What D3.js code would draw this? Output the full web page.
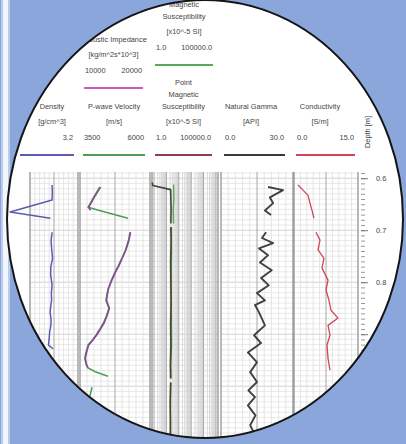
<!DOCTYPE html>
<html>
<head>
<meta charset="utf-8">
<script src="https://cdn.jsdelivr.net/npm/d3@7"></script>
<style>
  body { margin: 0; background: #8aa6da; }
  svg { display: block; }
  text { font-family: "Liberation Sans", Arial, sans-serif; }
</style>
</head>
<body>
<div id="viz"></div>
<script>
// [depth (m), value]; null marks a core section break
var depthTicks = [0.6, 0.7, 0.8, 0.9, 1.0, 1.1];

var density = [[0.613,2.12],[0.628,2.13],[0.642,2.12],[0.665,0.37],[0.677,2.05],[0.69,null],
  [0.704,2.12],[0.72,2.08],[0.735,2.10],[0.754,2.14],[0.77,2.07],[0.785,2.06],[0.806,2.12],
  [0.82,2.09],[0.835,2.10],[0.848,2.06],[0.858,2.04],[0.872,2.08],[0.883,2.07],[0.895,2.02],
  [0.908,2.00],[0.921,1.97],[0.928,2.16]];

var velocity = [[0.617,4180],[0.636,3950],[0.656,3730],[0.664,4300],[0.677,5240],[0.69,null],
  [0.704,5320],[0.72,5260],[0.738,5150],[0.754,5010],[0.768,4880],[0.781,4750],[0.798,4600],
  [0.815,4480],[0.835,4410],[0.850,4520],[0.864,4430],[0.877,4330],[0.890,4180],[0.902,4030],
  [0.912,3880],[0.921,3730],[0.935,3650],[0.946,3610],[0.957,3650],[0.965,3730],[0.972,4000],
  [0.981,4480],[0.99,null],[1.002,3880],[1.019,3800]];

var impedance = [[0.617,12800],[0.636,11900],[0.656,11000],[0.662,11300],[0.69,null],
  [0.704,17350],[0.72,17100],[0.738,16650],[0.754,16100],[0.768,15600],[0.781,15050],
  [0.798,14450],[0.815,13950],[0.835,13700],[0.850,14150],[0.864,13800],[0.877,13400],
  [0.890,12800],[0.902,12200],[0.912,11600],[0.921,11000],[0.935,10700],[0.946,10500],
  [0.957,10650],[0.965,10900]];

var volumeMag = [[0.612,38],[0.64,40],[0.66,36],[0.687,38],[0.69,null],[0.694,25],[0.74,26],
  [0.8,24],[0.86,25],[0.92,26],[0.96,23],[0.985,24],[0.989,null],[0.993,23],[1.05,22],[1.12,23]];

var pointMag = [[0.608,0.7],[0.614,0.8],[0.622,22],[0.64,23],[0.66,24],[0.687,23],[0.69,null],
  [0.694,23],[0.72,24],[0.76,22],[0.8,23],[0.84,24],[0.88,22],[0.92,23],[0.96,21],[0.985,22],
  [0.989,null],[0.993,22],[1.03,20],[1.07,21],[1.12,20]];

var gamma = [[0.617,19.9],[0.623,26.5],[0.637,20.7],[0.648,22.1],[0.662,18.5],[0.671,21.2],[0.685,null],
  [0.704,19.0],[0.715,17.2],[0.725,22.1],[0.735,15.9],[0.748,19.9],[0.762,16.3],[0.777,21.5],
  [0.792,16.8],[0.806,20.2],[0.821,15.0],[0.835,18.5],[0.844,14.1],[0.858,15.9],[0.883,18.5],
  [0.902,13.7],[0.917,16.8],[0.935,11.0],[0.954,15.0],[0.973,12.0],[0.992,15.0],[1.008,11.2],
  [1.021,14.1],[1.037,11.0],[1.056,14.3],[1.075,12.0],[1.094,14.1],[1.11,12.5]];

var conductivity = [[0.613,0.26],[0.623,1.58],[0.633,2.9],[0.648,3.42],[0.662,3.95],[0.677,4.47],[0.69,null],
  [0.704,5.0],[0.719,6.05],[0.738,5.53],[0.754,7.1],[0.773,6.58],[0.796,8.16],[0.815,7.63],
  [0.835,8.42],[0.854,8.95],[0.869,10.8],[0.883,8.16],[0.902,8.68],[0.921,7.9],[0.946,8.16],[0.969,8.68]];

// header labels
var curveTitles = {
  density: ["Density"], velocity: ["P-wave Velocity"], impedance: ["Acoustic Impedance"],
  volumeMag: ["Magnetic", "Susceptibility"], pointMag: ["Point", "Magnetic", "Susceptibility"],
  gamma: ["Natural Gamma"], conductivity: ["Conductivity"]
};
var curveUnits = {
  density: "[g/cm^3]", velocity: "[m/s]", impedance: "[kg/m^2s*10^3]", volumeMag: "[x10^-5 SI]",
  pointMag: "[x10^-5 SI]", gamma: "[API]", conductivity: "[S/m]"
};
var rangeLabels = {
  density: [null, "3.2"], velocity: ["3500", "6000"], impedance: ["10000", "20000"],
  volumeMag: ["1.0", "100000.0"], pointMag: ["1.0", "100000.0"], gamma: ["0.0", "30.0"],
  conductivity: ["0.0", "15.0"]
};

var W = 406, H = 444;
var svg = d3.select("#viz").append("svg").attr("width", W).attr("height", H);

svg.append("rect").attr("width", W).attr("height", H).attr("fill", "#8aa6da");
svg.append("rect").attr("x", 1).attr("width", 9).attr("height", H).attr("fill", "#b8ccee");
svg.append("rect").attr("x", 3).attr("width", 5).attr("height", H).attr("fill", "#f3f6fc");

svg.append("defs").append("clipPath").attr("id", "lens")
  .append("ellipse").attr("cx", 205).attr("cy", 219).attr("rx", 198).attr("ry", 219);

var g = svg.append("g").attr("clip-path", "url(#lens)");
g.append("rect").attr("width", W).attr("height", H).attr("fill", "#fff");

var y = d3.scaleLinear().domain([0.59, 1.15]).range([173, 173 + 0.56 * 520]);

var xDen = d3.scaleLinear().domain([1.2, 3.2]).range([30, 78]);
var xVel = d3.scaleLinear().domain([3500, 6000]).range([82, 148]);
var xImp = d3.scaleLinear().domain([10000, 20000]).range([82, 148]);
var xMag = d3.scaleLog().domain([1, 100000]).range([154, 216]);
var xGam = d3.scaleLinear().domain([0, 30]).range([223, 291]);
var xCon = d3.scaleLinear().domain([0, 15]).range([297, 354]);

var tracks = [
  {x0: 30, x1: 78, scale: xDen},
  {x0: 80, x1: 150, scale: xVel},
  {x0: 152, x1: 218, scale: xMag, log: true},
  {x0: 221, x1: 293, scale: xGam},
  {x0: 294, x1: 358, scale: xCon}
];

var yTop = 172, yBot = 470;
var hLines = d3.range(59, 116).map(function(d) { return d / 100; });

tracks.forEach(function(t) {
  var tg = g.append("g");
  // horizontal depth grid
  tg.selectAll(null).data(hLines).enter().append("line")
    .attr("x1", t.x0).attr("x2", t.x1)
    .attr("y1", function(d) { return y(d); }).attr("y2", function(d) { return y(d); })
    .attr("stroke", function(d) { return Math.round(d * 100) % 10 == 0 ? "#c8c8c8" : "#e4e4e4"; })
    .attr("stroke-width", 0.8);
  // vertical value grid
  var vx;
  if (t.log) {
    vx = xMag.ticks().map(function(v) { return {x: xMag(v), major: Math.log10(v) % 1 == 0}; });
  } else {
    var s = d3.scaleLinear().domain([0, 10]).range([t.x0, t.x1]);
    vx = d3.range(1, 10).map(function(i) { return {x: s(i), major: i % 5 == 0}; });
  }
  tg.selectAll(null).data(vx).enter().append("line")
    .attr("x1", function(d) { return d.x; }).attr("x2", function(d) { return d.x; })
    .attr("y1", yTop).attr("y2", yBot)
    .attr("stroke", function(d) { return d.major ? "#a8a8a8" : (t.log ? "#cfcfcf" : "#dedede"); })
    .attr("stroke-width", function(d) { return d.major ? 1 : 0.8; });
  // borders
  tg.selectAll(null).data([t.x0, t.x1]).enter().append("line")
    .attr("x1", function(d) { return d; }).attr("x2", function(d) { return d; })
    .attr("y1", yTop).attr("y2", yBot)
    .attr("stroke", "#8a8a8a").attr("stroke-width", 1.2);
});

function drawCurve(data, xs, color, width) {
  var line = d3.line()
    .defined(function(d) { return d[1] != null; })
    .x(function(d) { return xs(d[1]); })
    .y(function(d) { return y(d[0]); });
  g.append("path").datum(data)
    .attr("d", line)
    .attr("fill", "none")
    .attr("stroke", color)
    .attr("stroke-width", width)
    .attr("stroke-linejoin", "round");
}

var colors = {
  density: "#5b5cb0", velocity: "#4e9e55", impedance: "#c85bbf", volumeMag: "#5aa85a",
  pointMag: "#8e3d4d", gamma: "#3a3a3a", conductivity: "#d24457"
};

drawCurve(density, xDen, colors.density, 1.5);
drawCurve(velocity, xVel, colors.velocity, 1.6);
drawCurve(impedance, xImp, "#8a4a96", 1.6);
drawCurve(volumeMag, xMag, colors.volumeMag, 1.4);
drawCurve(pointMag, xMag, "#45452e", 1.6);
drawCurve(gamma, xGam, "#404040", 1.9);
drawCurve(conductivity, xCon, colors.conductivity, 1.3);

// headers: lineY is the coloured key line, text stacks upward from it
function header(key, x0, x1, lineY, cx) {
  cx = cx || (x0 + x1) / 2;
  var hg = g.append("g").attr("fill", "#444").attr("font-size", 7.4).attr("dominant-baseline", "middle");
  hg.append("line").attr("x1", x0).attr("x2", x1).attr("y1", lineY).attr("y2", lineY)
    .attr("stroke", colors[key]).attr("stroke-width", 2);
  if (rangeLabels[key][0]) {
    hg.append("text").attr("x", x0 + 1).attr("y", lineY - 17).text(rangeLabels[key][0]);
  }
  hg.append("text").attr("x", x1 - 1).attr("y", lineY - 17).attr("text-anchor", "end").text(rangeLabels[key][1]);
  hg.append("text").attr("x", cx).attr("y", lineY - 33).attr("text-anchor", "middle").text(curveUnits[key]);
  var t = curveTitles[key].slice().reverse();
  hg.selectAll(null).data(t).enter().append("text")
    .attr("x", cx).attr("y", function(d, i) { return lineY - 48 - i * 12; })
    .attr("text-anchor", "middle").text(function(d) { return d; });
}

header("density", 20, 74, 155, 52);
header("velocity", 83, 145, 155);
header("impedance", 84, 143, 88);
header("pointMag", 155, 212, 155);
header("volumeMag", 155, 213, 65);
header("gamma", 224, 285, 155, 251);
header("conductivity", 296, 355, 155, 320);

// depth axis
var minor = d3.range(59, 116).map(function(d) { return d / 100; });
var ax = g.append("g").attr("transform", "translate(361,0)");
ax.append("g").call(d3.axisRight(y).tickValues(minor).tickSize(4).tickFormat(""))
  .call(function(s) { s.select(".domain").remove(); s.selectAll("line").attr("stroke", "#999"); });
ax.append("g").call(d3.axisRight(y).tickValues(depthTicks).tickSize(7).tickPadding(8).tickFormat(d3.format(".1f")))
  .call(function(s) {
    s.select(".domain").remove();
    s.selectAll("line").attr("stroke", "#777");
    s.selectAll("text").attr("font-size", 7.4).attr("fill", "#444");
  });

g.append("text").attr("transform", "translate(368,132) rotate(-90)")
  .attr("text-anchor", "middle").attr("dominant-baseline", "middle")
  .attr("font-size", 7.4).attr("fill", "#444").text("Depth [m]");

// lens outline
svg.append("ellipse").attr("cx", 205).attr("cy", 219).attr("rx", 198).attr("ry", 219)
  .attr("fill", "none").attr("stroke", "#151515").attr("stroke-width", 2);
</script>
</body>
</html>
